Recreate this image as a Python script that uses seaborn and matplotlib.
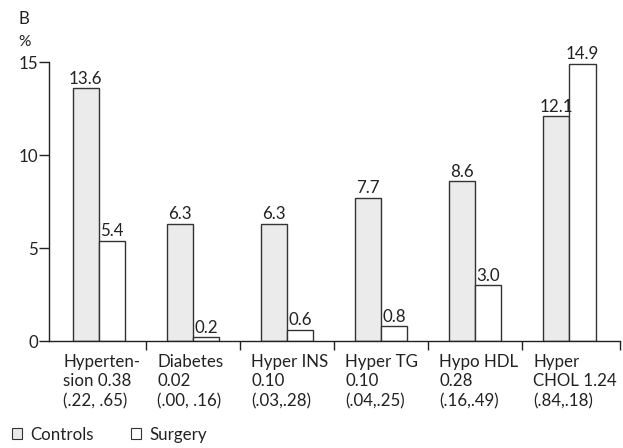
import pandas as pd
import seaborn as sns
import matplotlib.pyplot as plt
from matplotlib.patches import Patch

# values
conditions = ["Hyperten-\nsion 0.38\n(.22, .65)", "Diabetes\n0.02\n(.00, .16)",
              "Hyper INS\n0.10\n(.03,.28)", "Hyper TG\n0.10\n(.04,.25)",
              "Hypo HDL\n0.28\n(.16,.49)", "Hyper\nCHOL 1.24\n(.84,.18)"]
controls = [13.6, 6.3, 6.3, 7.7, 8.6, 12.1]
surgery = [5.4, 0.2, 0.6, 0.8, 3.0, 14.9]
groups = ["Controls", "Surgery"]
yticks = [0, 5, 10, 15]

df = pd.DataFrame({
    "cond": conditions * 2,
    "pct": controls + surgery,
    "group": ["Controls"] * len(controls) + ["Surgery"] * len(surgery),
})

sns.set_style("white")
plt.rcParams["font.family"] = ["Lato", "DejaVu Sans"]
ink = "#222222"
fs = 12.2

fig = plt.figure(figsize=(6.23, 4.48), dpi=100)
ax = fig.add_axes([0.0787, 0.2388, 0.9165, 0.6228])

sns.barplot(data=df, x="cond", y="pct", hue="group", hue_order=groups,
            palette={"Controls": "#ebebeb", "Surgery": "white"},
            edgecolor="#333333", linewidth=1.0, width=0.56, gap=0,
            legend=False, ax=ax)

# value labels
for cont in ax.containers:
    ax.bar_label(cont, fmt="%.1f", padding=1, fontsize=fs, color=ink)

ax.set_xlim(-0.53, 5.54)
ax.set_ylim(0, 15)
ax.set_yticks(yticks)
ax.set_xticks([0.5, 1.5, 2.5, 3.5, 4.5, 5.54])
ax.set_xticklabels([])
ax.tick_params(axis="y", length=7, width=1, color=ink, labelsize=fs,
               labelcolor=ink, pad=1, left=True)
ax.tick_params(axis="x", length=6.5, width=1, color=ink, bottom=True, direction="out")
ax.set_xlabel("")
ax.set_ylabel("")
sns.despine(ax=ax)
for s in ["left", "bottom"]:
    ax.spines[s].set_color(ink)
    ax.spines[s].set_linewidth(1)

# category labels under each group
for i, lab in enumerate(conditions):
    ax.annotate(lab, xy=(i - 0.38, 0), xycoords="data", xytext=(0, -9),
                textcoords="offset points", ha="left", va="top",
                fontsize=fs, color=ink, linespacing=1.28, annotation_clip=False)

fig.text(18 / 623, 1 - 19 / 448, "B", fontsize=fs, color=ink, va="center")
fig.text(18 / 623, 1 - 42 / 448, "%", fontsize=fs - 1, color=ink, va="center")

handles = [Patch(facecolor="#ebebeb", edgecolor="#333333", linewidth=0.8),
           Patch(facecolor="white", edgecolor="#333333", linewidth=0.8)]
fig.legend(handles, groups, loc="lower left", bbox_to_anchor=(-0.006, -0.022),
           ncol=2, frameon=False, fontsize=fs, handlelength=0.6,
           handleheight=0.6, handletextpad=0.5, columnspacing=2.2,
           labelcolor=ink)

fig.savefig("out.png", dpi=100)
